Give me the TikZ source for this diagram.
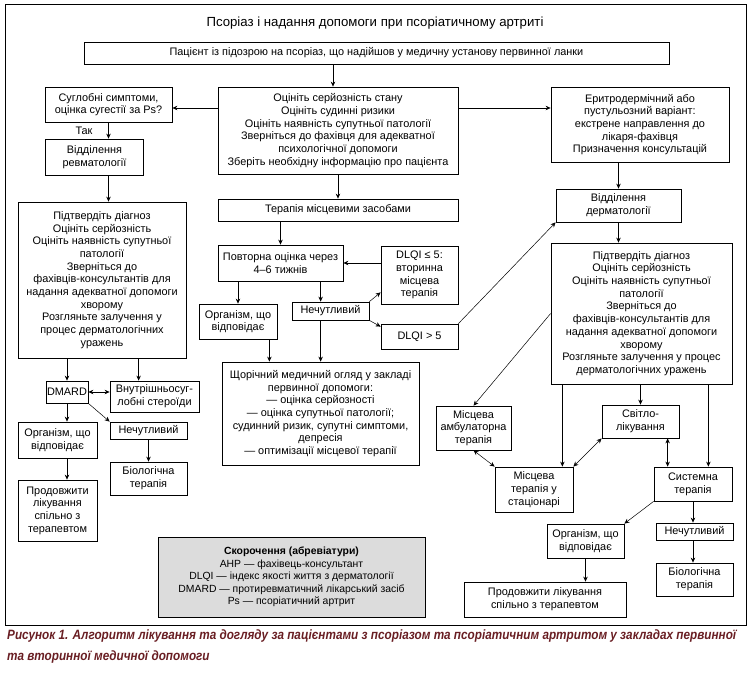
\documentclass[tikz,border=0pt]{standalone}
\usepackage{fontspec}
\setmainfont{Liberation Sans}
\newfontfamily\capfont[FakeStretch=0.87]{Liberation Sans}
\usetikzlibrary{arrows.meta,calc}
\definecolor{capred}{RGB}{105,30,35}
\definecolor{abgray}{RGB}{220,220,220}
\begin{document}
\begin{tikzpicture}[x=1pt,y=-1pt,
  bx/.style={draw,line width=0.75pt,align=center,inner sep=0pt,font=\fontsize{10.9}{12.7}\selectfont},
  sz/.style 2 args={minimum width=#1pt,minimum height=#2pt},
  ar/.style={line width=0.75pt,-{Stealth[length=5pt,width=4.5pt]}},
  tar/.style={line width=0.5pt,-{Stealth[length=5pt,width=4.5pt]}},
  dar/.style={line width=0.75pt,{Stealth[length=5pt,width=4.5pt]}-{Stealth[length=5pt,width=4.5pt]}},
  tdar/.style={line width=0.5pt,{Stealth[length=5pt,width=4.5pt]}-{Stealth[length=5pt,width=4.5pt]}}]
\useasboundingbox (0,0) rectangle (753,677);
\node[draw,line width=0.75pt,sz={741}{621},inner sep=0pt] (frame) at (375.5,314.5) {};
\node[font=\fontsize{13.2}{16}\selectfont,inner sep=0pt] (title) at (375,23) {Псоріаз і надання допомоги при псоріатичному артриті};
\node[bx,sz={585}{22}] (P) at (376.5,53) {Пацієнт із підозрою на псоріаз, що надійшов у медичну установу первинної ланки};
\node[bx,sz={240}{87}] (A) at (338,130.5) {Оцініть серйозність стану\\Оцініть судинні ризики\\Оцініть наявність супутньої патології\\Зверніться до фахівця для адекватної\\психологічної допомоги\\Зберіть необхідну інформацію про пацієнта};
\node[bx,sz={127}{35}] (S) at (108.5,104.5) {Суглобні симптоми,\\оцінка сугестії за Ps?};
\node[bx,sz={98}{36}] (RV) at (94.5,157) {Відділення\\ревматології};
\node[bx,sz={178}{75}] (E) at (640,124.5) {Еритродермічний або\\пустульозний варіант:\\екстрене направлення до\\лікаря-фахівця\\Призначення консультацій};
\node[bx,sz={168}{156}] (L) at (102,280) {Підтвердіть діагноз\\Оцініть серйозність\\Оцініть наявність супутньої\\патології\\Зверніться до\\фахівців-консультантів для\\надання адекватної допомоги\\хворому\\Розгляньте залучення у\\процес дерматологічних\\уражень};
\node[bx,sz={42}{22}] (DM) at (67,392) {DMARD};
\node[bx,sz={89}{31}] (V) at (154.5,396.5) {Внутрішньосуг-\\лобні стероїди};
\node[bx,sz={79}{36}] (O1) at (57.5,440) {Організм, що\\відповідає};
\node[bx,sz={77}{17}] (N1) at (148.5,430.5) {Нечутливий};
\node[bx,sz={77}{33}] (B1) at (148.5,478.5) {Біологічна\\терапія};
\node[bx,sz={79}{61}] (P1) at (57.5,510.5) {Продовжити\\лікування\\спільно з\\терапевтом};
\node[bx,sz={240}{22}] (T) at (338,210) {Терапія місцевими засобами};
\node[bx,sz={125}{36}] (R) at (280.5,263) {Повторна оцінка через\\4–6 тижнів};
\node[bx,sz={78}{35}] (O2) at (238,321.5) {Організм, що\\відповідає};
\node[bx,sz={77}{18}] (N2) at (330.5,311) {Нечутливий};
\node[bx,sz={77}{58}] (D1) at (419.5,275) {DLQI ≤ 5:\\вторинна\\місцева\\терапія};
\node[bx,sz={77}{25}] (D2) at (419.5,336.5) {DLQI > 5};
\node[bx,sz={197}{103}] (AN) at (320.5,413.5) {Щорічний медичний огляд у закладі\\первинної допомоги:\\— оцінка серйозності\\— оцінка супутньої патології;\\судинний ризик, супутні симптоми,\\депресія\\— оптимізації місцевої терапії};
\node[bx,sz={125}{33}] (DD) at (618.5,205.5) {Відділення\\дерматології};
\node[bx,sz={181}{141}] (BR) at (641.5,313.5) {Підтвердіть діагноз\\Оцініть серйозність\\Оцініть наявність супутньої\\патології\\Зверніться до\\фахівців-консультантів для\\надання адекватної допомоги\\хворому\\Розгляньте залучення у процес\\дерматологічних уражень};
\node[bx,sz={75}{44}] (MA) at (473.5,428) {Місцева\\амбулаторна\\терапія};
\node[bx,sz={77}{33}] (SV) at (640.5,421.5) {Світло-\\лікування};
\node[bx,sz={78}{45}] (MS) at (534,489.5) {Місцева\\терапія у\\стаціонарі};
\node[bx,sz={78}{34}] (SY) at (693,484) {Системна\\терапія};
\node[bx,sz={77}{34}] (O3) at (585.5,541) {Організм, що\\відповідає};
\node[bx,sz={77}{17}] (N3) at (694.5,531.5) {Нечутливий};
\node[bx,sz={77}{33}] (B3) at (694.5,579.5) {Біологічна\\терапія};
\node[bx,sz={162}{35}] (P3) at (545,599.5) {Продовжити лікування\\спільно з терапевтом};
\node[bx,sz={267}{80},fill=abgray,font=\fontsize{10.4}{12.5}\selectfont] (AB) at (291.5,577) {\textbf{Скорочення (абревіатури)}\\AHP — фахівець-консультант\\DLQI — індекс якості життя з дерматології\\DMARD — протиревматичний лікарський засіб\\Ps — псоріатичний артрит};
\node[anchor=north west,inner sep=0pt,align=left,text=capred,font=\capfont\bfseries\itshape\fontsize{13.5}{21}\selectfont] (cap) at (7,630) {Рисунок 1. Алгоритм лікування та догляду за пацієнтами з псоріазом та псоріатичним артритом у закладах первинної\\та вторинної медичної допомоги};
% helper coordinates
\coordinate (y108) at (0,108);
\coordinate (x333) at (333,0);
% arrows
\draw[ar] (P.south -| x333) -- (A.north -| x333);
\draw[ar] (A.west |- y108) -- (S.east |- y108);
\draw[ar] (A.east |- y108) -- (E.west |- y108);
\draw[ar] (S.south) -- (S.south |- RV.north);
\node[font=\fontsize{10.9}{12}\selectfont,inner sep=0pt] (tak) at (84,131) {Так};
\draw[ar] (S.south |- RV.south) -- (S.south |- L.north);
\coordinate (lv) at ($(V.north west)+(29,0)$);
\draw[ar] (DM.north |- L.south) -- (DM.north);
\draw[ar] (lv |- L.south) -- (lv);
\draw[dar] (DM.east) -- (DM.east -| V.west);
\draw[ar] (DM.south) -- (DM.south |- O1.north);
\draw[tar] (DM.south east) -- (N1.north west);
\draw[ar] (N1.south) -- (B1.north);
\draw[ar] (DM.south |- O1.south) -- (DM.south |- P1.north);
\draw[ar] (A.south) -- (T.north);
\draw[ar] (R.north |- T.south) -- (R.north);
\draw[ar] (O2.north |- R.south) -- (O2.north);
\coordinate (rn) at ($(N2.north west)+(29,0)$);
\draw[ar] (rn |- R.south) -- (rn);
\draw[ar] (D1.west |- R.east) -- (R.east);
\coordinate (d1in) at ($(D1.south west)+(0,-12)$);
\coordinate (d2in) at ($(D2.north west)+(0,3)$);
\draw[tar] (N2.north east) -- (d1in);
\draw[tar] (N2.south east) -- (d2in);
\draw[tar] (D2.north east) -- (DD.south west);
\coordinate (o2a) at ($(O2.south east)+(-8,0)$);
\draw[ar] (o2a) -- (o2a |- AN.north);
\draw[ar] (rn |- N2.south) -- (rn |- AN.north);
\draw[ar] (DD.north |- E.south) -- (DD.north);
\draw[ar] (DD.south) -- (DD.south |- BR.north);
\draw[tar] (BR.west) -- (MA.north);
\draw[ar] (SV.north |- BR.south) -- (SV.north);
\coordinate (msa) at ($(MS.north east)+(-11,0)$);
\draw[ar] (msa |- BR.south) -- (msa);
\coordinate (sya) at ($(SY.north east)+(-24,0)$);
\draw[ar] (sya |- BR.south) -- (sya);
\draw[tdar] (MA.south) -- (MS.north west);
\draw[tdar] (MS.north east) -- (SV.south west);
\coordinate (svy) at ($(SV.south west)+(66,0)$);
\draw[dar] (svy) -- (svy |- SY.north);
\draw[tar] (SY.south west) -- (O3.north east);
\draw[ar] (SY.south) -- (SY.south |- N3.north);
\draw[ar] (SY.south |- N3.south) -- (SY.south |- B3.north);
\draw[ar] (O3.south) -- (O3.south |- P3.north);
\end{tikzpicture}
\end{document}
